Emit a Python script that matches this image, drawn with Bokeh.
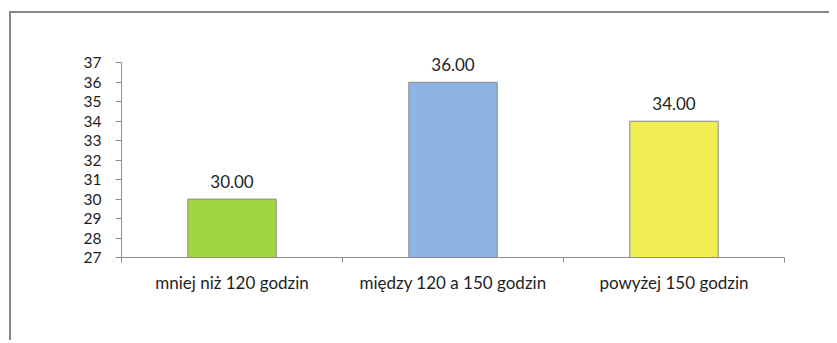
from bokeh.plotting import figure
from bokeh.models import (Range1d, LinearAxis, FixedTicker, ColumnDataSource, LabelSet)
from bokeh.core.properties import value
from bokeh.embed import file_html
from bokeh.resources import INLINE

# ---- data ----
categories = ["mniej niż 120 godzin", "między 120 a 150 godzin", "powyżej 150 godzin"]
values = [30.0, 36.0, 34.0]
colors = ["#A0D53F", "#8EB4E3", "#F1EE54"]
y_ticks = [27, 28, 29, 30, 31, 32, 33, 34, 35, 36, 37]
y_min, y_max = 27, 37

# view headroom above the axis so the value labels are not clipped
VIEW_TOP = 38.2

FONT = "Lato"
TXT = "#1e1e1e"
AXC = "#8c8c8c"

n = len(categories)
centers = [i + 0.5 for i in range(n)]
bounds = list(range(n + 1))
labels = [f"{v:.2f}" for v in values]
src = ColumnDataSource(dict(x=centers, val=values, col=colors, lab=labels))

p = figure(width=820, height=329,
           x_range=Range1d(0, n),
           y_range=Range1d(y_min, VIEW_TOP),
           x_axis_location=None,
           output_backend="svg", toolbar_location=None,
           min_border_left=110, min_border_top=26, min_border_right=47,
           min_border_bottom=85,
           styles={"margin-left": "9px", "margin-top": "11px",
                   "border-left": "2px solid #878787",
                   "border-top": "2px solid #878787"})
p.outline_line_color = None
p.xgrid.visible = False
p.ygrid.visible = False

p.vbar(x="x", top="val", bottom=y_min, width=0.4, source=src,
       fill_color="col", line_color="#8a8a8a", line_width=1)

lbl = LabelSet(x="x", y="val", text="lab", source=src, text_align="center",
               text_baseline="bottom", y_offset=11, text_font=value(FONT),
               text_font_size=value("17px"), text_color=TXT)
p.add_layout(lbl)

# y axis
ya = p.yaxis[0]
ya.ticker = FixedTicker(ticks=y_ticks)
ya.bounds = (y_min, y_max)
ya.minor_tick_line_color = None
ya.major_tick_in = 0
ya.major_tick_out = 6
ya.axis_line_color = AXC
ya.major_tick_line_color = AXC
ya.major_label_standoff = 14
ya.major_label_text_font = FONT
ya.major_label_text_font_size = "15.5px"
ya.major_label_text_color = TXT

# x axis: category labels at bar centres, ticks at category boundaries
xa = LinearAxis(ticker=FixedTicker(ticks=centers, minor_ticks=bounds),
                major_label_overrides={c: name for c, name in zip(centers, categories)},
                axis_line_color=AXC,
                major_tick_line_color=None, major_tick_in=0, major_tick_out=0,
                minor_tick_line_color=AXC, minor_tick_in=0, minor_tick_out=5,
                major_label_standoff=9,
                major_label_text_font=FONT,
                major_label_text_font_size="17px",
                major_label_text_color=TXT)
p.add_layout(xa, "below")

open("out.html", "w").write(file_html(p, INLINE))
